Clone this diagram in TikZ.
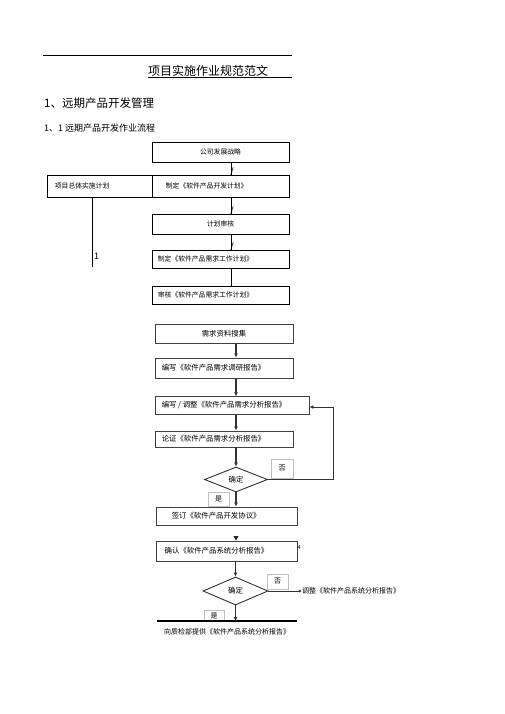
\documentclass[tikz,border=0pt]{standalone}
\usepackage{fontspec}
\setmainfont{Noto Sans CJK SC}
\usetikzlibrary{shapes.geometric,arrows.meta}
\begin{document}
\begin{tikzpicture}[x=1pt,y=-1pt,
  box/.style={draw, line width=0.6pt, inner sep=0pt, font=\fontsize{6.8}{8}\selectfont},
  lbox/.style={draw=black!75, line width=0.9pt, inner sep=0pt, font=\fontsize{7.4}{9}\selectfont},
  txt/.style={inner sep=0pt, anchor=west, font=\fontsize{7.4}{9}\selectfont},
  stxt/.style={inner sep=0pt, anchor=west, font=\fontsize{6.8}{8}\selectfont},
  tag/.style={draw=black!25, line width=0.5pt, inner sep=0pt, font=\fontsize{7}{8}\selectfont},
  dia/.style={diamond, draw=black!80, line width=0.9pt, inner sep=0pt, font=\fontsize{7.4}{9}\selectfont},
  arr/.style={draw=black!80, line width=1.1pt, -{Latex[length=4pt,width=4pt]}},
  thin/.style={draw, line width=0.6pt},
  fmark/.style={inner sep=0pt, font=\fontsize{8}{8}\selectfont}
  ]
\useasboundingbox (0,0) rectangle (505,714);
% header
\coordinate (h1) at (43,55);
\coordinate (h2) at (292,55);
\draw[line width=0.8pt] (h1) -- (h2);
\node[inner sep=0pt, anchor=west, font=\fontsize{12}{14}\selectfont] (title) at (148,71) {项目实施作业规范范文};
\coordinate (u1) at (148,77.5);
\coordinate (u2) at (292,77.5);
\draw[line width=0.8pt] (u1) -- (u2);
\node[inner sep=0pt, anchor=west, font=\fontsize{11.5}{14}\selectfont] (hd1) at (44,103) {1、远期产品开发管理};
\node[inner sep=0pt, anchor=west, font=\fontsize{9}{11}\selectfont] (hd2) at (44,128.5) {1、1 远期产品开发作业流程};

% top flow
\node[box, minimum width=137pt, minimum height=20pt] (s1) at (220.5,152) {公司发展战略};
\node[box, minimum width=105pt, minimum height=22pt] (p0) at (99.5,186) {};
\node[stxt] (p0t) at ([xshift=8pt]p0.west) {项目总体实施计划};
\node[box, minimum width=137pt, minimum height=22pt] (s2) at (220.5,186) {};
\node[stxt] (s2t) at ([xshift=14pt]s2.west) {制定《软件产品开发计划》};
\node[box, minimum width=137pt, minimum height=20pt] (s3) at (220.5,224) {计划审核};
\node[box, minimum width=137pt, minimum height=18pt] (s4) at (220.5,259) {};
\node[stxt] (s4t) at ([xshift=6pt]s4.west) {制定《软件产品需求工作计划》};
\node[box, minimum width=137pt, minimum height=18pt] (s5) at (220.5,295) {};
\node[stxt] (s5t) at ([xshift=6pt]s5.west) {审核《软件产品需求工作计划》};

\draw[thin] ([xshift=10.5pt]s1.south) -- ([xshift=10.5pt]s2.north);
\node[fmark] (f1) at ([xshift=11.5pt,yshift=3.5pt]s2.north) {$f$};
\draw[thin] ([xshift=10.5pt]s2.south) -- ([xshift=10.5pt]s3.north);
\node[fmark] (f2) at ([xshift=11.5pt,yshift=3.5pt]s3.north) {$f$};
\draw[thin] ([xshift=10.5pt]s3.south) -- ([xshift=10.5pt]s4.north);
\node[fmark] (f3) at ([xshift=11.5pt,yshift=3.5pt]s4.north) {$f$};
\draw[thin] ([xshift=10.5pt]s4.south) -- ([xshift=10.5pt]s5.north);

\coordinate (pe) at (92,267);
\draw[thin] (p0.south -| pe) -- (pe);
\node[inner sep=0pt, anchor=west, font=\fontsize{9}{10}\selectfont] (one) at (94,256) {1};

% lower flow
\node[lbox, minimum width=138pt, minimum height=19pt] (b6) at (224,333.5) {需求资料搜集};
\node[lbox, minimum width=138pt, minimum height=20pt] (b7) at (224,368) {};
\node[txt] (b7t) at ([xshift=7pt]b7.west) {编写《软件产品需求调研报告》};
\node[lbox, minimum width=154pt, minimum height=17.5pt] (b8) at (232,405.5) {};
\node[txt] (b8t) at ([xshift=7pt]b8.west) {编写 / 调整《软件产品需求分析报告》};
\node[lbox, minimum width=138pt, minimum height=16pt] (b9) at (224,439) {};
\node[txt] (b9t) at ([xshift=7pt]b9.west) {论证《软件产品需求分析报告》};
\node[dia, minimum width=63pt, minimum height=25pt] (d1) at (236,479.5) {确定};
\node[tag, minimum width=22pt, minimum height=19pt] (no1) at (282,468.5) {否};
\node[tag, minimum width=21pt, minimum height=14pt] (yes1) at (218.5,499) {是};
\node[lbox, minimum width=141pt, minimum height=18pt] (b10) at (226.5,516) {};
\node[txt] (b10t) at ([xshift=16pt]b10.west) {签订《软件产品开发协议》};
\node[lbox, minimum width=141pt, minimum height=20pt, line width=1pt] (b11) at (226.5,551) {};
\node[txt] (b11t) at ([xshift=9pt]b11.west) {确认《软件产品系统分析报告》};
\node[inner sep=0pt, anchor=west, font=\fontsize{5.5}{6}\selectfont] (four) at (297.5,548) {4};
\node[dia, minimum width=65pt, minimum height=28pt] (d2) at (235.5,591) {确定};
\node[tag, minimum width=21pt, minimum height=15pt] (no2) at (277.5,581.5) {否};
\node[tag, minimum width=20pt, minimum height=10pt] (yes2) at (214,615.5) {是};
\node[inner sep=0pt, anchor=west, font=\fontsize{7}{8}\selectfont] (adj) at (302,591) {调整《软件产品系统分析报告》};
\coordinate (bl1) at (157,621);
\coordinate (bl2) at (297,621);
\draw[line width=1.2pt] (bl1) -- (bl2);
\node[inner sep=0pt, anchor=west, font=\fontsize{7}{8}\selectfont] (fin) at (164,631.5) {向质检部提供《软件产品系统分析报告》};

% lower connectors
\draw[arr] (b6.south -| d1) -- (b7.north -| d1);
\draw[arr] (b7.south -| d1) -- (b8.north -| d1);
\draw[arr] (b8.south -| d1) -- (b9.north -| d1);
\draw[arr] (b9.south -| d1) -- (d1.north);
\coordinate (lp1) at (333,479.5);
\coordinate (lp2) at (333,407);
\draw[draw=black!80, line width=0.9pt, -{Latex[length=4pt,width=4pt]}] (d1.east) -- (lp1) -- (lp2) -- (b8.east |- lp2);
\draw[arr] (d1.south) -- (b10.north -| d1);
\coordinate (ah) at (236,535.5);
\draw[draw=black!85, line width=0.4pt, -{Triangle[length=4.5pt,width=5pt]}] (ah) -- (b11.north -| ah);
\draw[arr] (b11.south -| d2) -- (d2.north);
\draw[draw=black!80, line width=0.7pt, -{Latex[length=3pt,width=3pt]}] (d2.east) -- (adj.west);
\draw[arr] (d2.south) -- (bl1 -| d2);
\end{tikzpicture}
\end{document}
